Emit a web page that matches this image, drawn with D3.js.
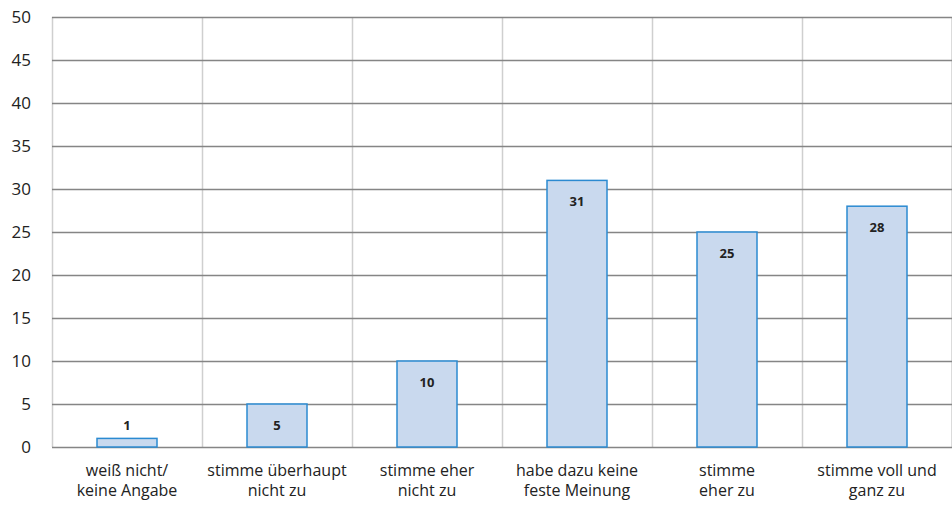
<!DOCTYPE html>
<html>
<head>
<meta charset="utf-8">
<script src="https://cdn.jsdelivr.net/npm/d3@7"></script>
<style>
  body { margin: 0; background: #fff; }
  text { font-family: "Open Sans", "Noto Sans", sans-serif; fill: #222; }
</style>
</head>
<body>
<div id="viz"></div>
<script>
var w = 952, h = 512;

var categories = [
    ["weiß nicht/", "keine Angabe"],
    ["stimme überhaupt", "nicht zu"],
    ["stimme eher", "nicht zu"],
    ["habe dazu keine", "feste Meinung"],
    ["stimme", "eher zu"],
    ["stimme voll und", "ganz zu"]
];
var values = [1, 5, 10, 31, 25, 28];
var yTicks = [0, 5, 10, 15, 20, 25, 30, 35, 40, 45, 50];

var margin = {top: 17, right: 0, bottom: 65, left: 52};

var svg = d3.select("#viz")
    .append("svg")
    .attr("width", w)
    .attr("height", h);

var x = d3.scaleBand()
    .domain(d3.range(values.length))
    .range([margin.left, w - margin.right])
    .paddingInner(0)
    .paddingOuter(0);

var y = d3.scaleLinear()
    .domain([0, 50])
    .range([h - margin.bottom, margin.top]);

var barWidth = 60;

// vertical grid at category borders
svg.append("g")
    .selectAll("line")
    .data(d3.range(values.length + 1))
    .enter()
    .append("line")
    .attr("x1", function(d) { return d < values.length ? x(d) : x.range()[1] - 0.5; })
    .attr("x2", function(d) { return d < values.length ? x(d) : x.range()[1] - 0.5; })
    .attr("y1", y(50))
    .attr("y2", y(0))
    .attr("stroke", "#cfcfcf")
    .attr("stroke-width", 1.5)
    .attr("transform", "translate(0.5,0)");

// horizontal grid
svg.append("g")
    .selectAll("line")
    .data(yTicks)
    .enter()
    .append("line")
    .attr("x1", margin.left)
    .attr("x2", w - margin.right)
    .attr("y1", function(d) { return Math.round(y(d)) + 0.5; })
    .attr("y2", function(d) { return Math.round(y(d)) + 0.5; })
    .attr("stroke", "#858585")
    .attr("stroke-width", 1.5);

// y axis labels
var yAxis = d3.axisLeft(y).tickValues(yTicks).tickSize(0).tickPadding(0);
var yg = svg.append("g")
    .attr("transform", "translate(" + 31 + ",0)")
    .call(yAxis);
yg.select(".domain").remove();
yg.selectAll("text")
    .style("font-size", "17px")
    .style("font-family", "'Open Sans', sans-serif")
    .attr("fill", "#222");

// bars
svg.append("g")
    .selectAll("rect")
    .data(values)
    .enter()
    .append("rect")
    .attr("x", function(d, i) { return x(i) + (x.bandwidth() - barWidth) / 2; })
    .attr("y", function(d) { return y(d); })
    .attr("width", barWidth)
    .attr("height", function(d) { return y(0) - y(d); })
    .attr("fill", "#c9d9ee")
    .attr("stroke", "#2b8ad1")
    .attr("stroke-width", 1.5);

// value labels
svg.append("g")
    .selectAll("text")
    .data(values)
    .enter()
    .append("text")
    .attr("x", function(d, i) { return x(i) + x.bandwidth() / 2; })
    .attr("y", function(d) {
        var hgt = y(0) - y(d);
        return hgt < 20 ? y(d) - 8 : y(d) + 26;
    })
    .attr("text-anchor", "middle")
    .style("font-size", "13px")
    .style("font-weight", "bold")
    .text(function(d) { return d; });

// category labels
var cat = svg.append("g")
    .selectAll("text")
    .data(categories)
    .enter()
    .append("text")
    .attr("x", function(d, i) { return x(i) + x.bandwidth() / 2; })
    .attr("y", 476)
    .attr("text-anchor", "middle")
    .style("font-size", "16px");

cat.selectAll("tspan")
    .data(function(d) { return d; })
    .enter()
    .append("tspan")
    .attr("x", function() { return d3.select(this.parentNode).attr("x"); })
    .attr("dy", function(d, i) { return i === 0 ? 0 : 20; })
    .text(function(d) { return d; });
</script>
</body>
</html>
